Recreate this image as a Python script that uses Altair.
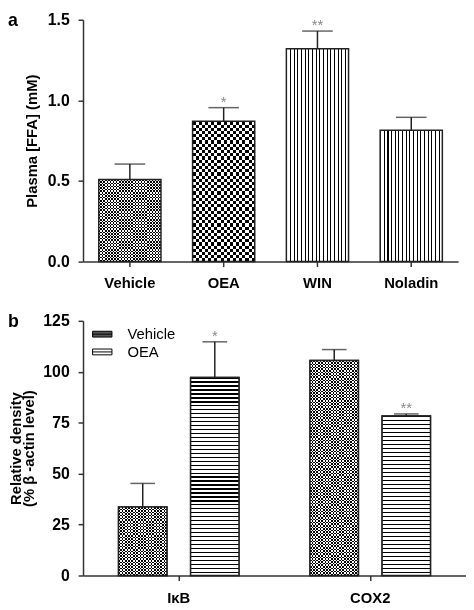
import altair as alt
import pandas as pd

# ---------------- data ----------------
groups_a = ["Vehicle", "OEA", "WIN", "Noladin"]
means_a = [0.51, 0.87, 1.32, 0.815]
errs_a = [0.095, 0.085, 0.11, 0.08]
stars_a = ["", "*", "**", ""]

targets_b = ["IκB", "COX2"]
treatments_b = ["Vehicle", "OEA"]
vehicle_means_b = [33.6, 105.5]
vehicle_errs_b = [11.6, 5.4]
oea_means_b = [97.2, 78.3]
oea_errs_b = [17.5, 1.0]
vehicle_stars_b = ["", ""]
oea_stars_b = ["*", "**"]

# ---------------- style ----------------
FONT = "Liberation Sans"
W_A, H_A = 380, 245
W_B, H_B = 388, 258
YMAX_A, YMAX_B = 1.5, 125
PAD_IN_A, PAD_OUT_A = 0.337, 0.168
PAD_IN_B, PAD_OUT_B = 0.329, 0.493
BW_A = W_A / (len(groups_a) - PAD_IN_A + 2 * PAD_OUT_A) * (1 - PAD_IN_A)
STEP_B = W_B / len(targets_b)
BW_B = STEP_B / (2 - PAD_IN_B + 2 * PAD_OUT_B) * (1 - PAD_IN_B)
EDGE = "#222222"
AXIS = "#333333"

df_a = pd.DataFrame({"group": groups_a, "mean": means_a, "err": errs_a, "star": stars_a})
df_a["top"] = df_a["mean"] + df_a["err"]

rows = []
for i, t in enumerate(targets_b):
    rows.append(dict(target=t, treatment="Vehicle", mean=vehicle_means_b[i],
                     err=vehicle_errs_b[i], star=vehicle_stars_b[i]))
    rows.append(dict(target=t, treatment="OEA", mean=oea_means_b[i],
                     err=oea_errs_b[i], star=oea_stars_b[i]))
df_b = pd.DataFrame(rows)
df_b["top"] = df_b["mean"] + df_b["err"]


def stripes(n, vertical, duty, dark="#000000", light="#ffffff"):
    n = max(int(n), 1)
    stops = []
    for i in range(n):
        a = round(i / n, 6)
        m = round((i + duty) / n, 6)
        b = round((i + 1) / n, 6)
        stops += [alt.GradientStop(offset=a, color=dark),
                  alt.GradientStop(offset=m, color=dark),
                  alt.GradientStop(offset=m, color=light),
                  alt.GradientStop(offset=b, color=light)]
    if vertical:
        return alt.LinearGradient(gradient="linear", stops=stops, x1=0, x2=1, y1=0, y2=0)
    return alt.LinearGradient(gradient="linear", stops=stops, x1=0, x2=0, y1=0, y2=1)


def pattern_layers(kind, size, bar_w, bar_h):
    if kind == "checker":
        return [(stripes(round(bar_w / (2 * size)), True, 0.5), None),
                (stripes(round(bar_h / (2 * size)), False, 0.5), "difference")]
    if kind == "vlines":
        return [(stripes(round(bar_w / size), True, 0.28), None)]
    return [(stripes(round(bar_h / size), False, 0.32), None)]


# ---------------- panel a ----------------
axis_y_a = alt.Axis(values=[0, 0.5, 1.0, 1.5], format=".1f", title="Plasma [FFA] (mM)",
                    labelPadding=9, titlePadding=8, labelFontSize=16)
scale_y_a = alt.Scale(domain=[0, YMAX_A], nice=False)
x_a = alt.X("group:N", sort=groups_a,
            scale=alt.Scale(domain=groups_a, paddingInner=PAD_IN_A, paddingOuter=PAD_OUT_A),
            axis=alt.Axis(title=None, labelAngle=0, labelPadding=9))


def y_a(field):
    return alt.Y(field, scale=scale_y_a, axis=axis_y_a)


base_a = alt.Chart(df_a)
patterns_a = {"Vehicle": ("checker", 1.6), "OEA": ("checker", 3.2),
              "WIN": ("vlines", 3.7), "Noladin": ("vlines", 3.7)}
layers_a = []
for g, m in zip(groups_a, means_a):
    kind, size = patterns_a[g]
    h_px = m / YMAX_A * H_A
    for fill, blend in pattern_layers(kind, size, BW_A, h_px):
        kw = {"fill": fill}
        if blend:
            kw["blend"] = blend
        layers_a.append(base_a.transform_filter(alt.datum.group == g)
                        .mark_bar(**kw).encode(x=x_a, y=y_a("mean:Q")))

outline_a = base_a.mark_bar(fillOpacity=0, stroke=EDGE, strokeWidth=1.5).encode(x=x_a, y=y_a("mean:Q"))
err_a = base_a.mark_rule(color=EDGE, strokeWidth=1.5).encode(x=x_a, y=y_a("mean:Q"), y2="top:Q")
cap_a = base_a.mark_tick(color=EDGE, thickness=1.5, size=31).encode(x=x_a, y=y_a("top:Q"))
star_a = base_a.mark_text(font=FONT, fontSize=15, color="#888888", baseline="alphabetic",
                          dy=-1).encode(x=x_a, y=y_a("top:Q"), text="star:N")
label_a = alt.Chart(pd.DataFrame({"label": ["a"]})).mark_text(
    align="left", baseline="middle", font=FONT, fontSize=18, fontWeight="bold",
    color="#000000").encode(text="label:N", x=alt.value(-76), y=alt.value(1))

panel_a = alt.layer(*layers_a, outline_a, err_a, cap_a, star_a, label_a).properties(
    width=W_A, height=H_A)

# ---------------- panel b ----------------
axis_y_b = alt.Axis(values=[0, 25, 50, 75, 100, 125], title=["Relative density", "(% β -actin level)"],
                    labelPadding=9, titlePadding=6, titleLineHeight=14, labelFontSize=16)
scale_y_b = alt.Scale(domain=[0, YMAX_B], nice=False)
x_b = alt.X("target:N", sort=targets_b,
            scale=alt.Scale(domain=targets_b, paddingInner=0, paddingOuter=0),
            axis=alt.Axis(title=None, labelAngle=0, labelPadding=10))
xo_b = alt.XOffset("treatment:N", sort=treatments_b,
                   scale=alt.Scale(domain=treatments_b, paddingInner=PAD_IN_B, paddingOuter=PAD_OUT_B))


def y_b(field):
    return alt.Y(field, scale=scale_y_b, axis=axis_y_b)


base_b = alt.Chart(df_b)
legend_b = base_b.mark_bar(stroke=EDGE, strokeWidth=1.5).encode(
    x=x_b, xOffset=xo_b, y=y_b("mean:Q"),
    fill=alt.Fill("treatment:N", sort=treatments_b,
                  scale=alt.Scale(domain=treatments_b, range=["#555555", "#ffffff"]),
                  legend=alt.Legend(title=None, orient="none", legendX=12, legendY=6,
                                    symbolType="M-1.4,-0.42H1.4V0.42H-1.4Z M-1.4,0H1.4",
                                    symbolSize=196,
                                    symbolStrokeColor="#000000", symbolStrokeWidth=1,
                                    labelFont=FONT, labelFontSize=15, labelColor="#000000",
                                    labelOffset=18, padding=0, rowPadding=2)))

patterns_b = {"Vehicle": ("checker", 1.6), "OEA": ("hlines", 4.0)}
layers_b = []
for t, vm, om in zip(targets_b, vehicle_means_b, oea_means_b):
    for tr, m in (("Vehicle", vm), ("OEA", om)):
        kind, size = patterns_b[tr]
        h_px = m / YMAX_B * H_B
        for fill, blend in pattern_layers(kind, size, BW_B, h_px):
            kw = {"fill": fill}
            if blend:
                kw["blend"] = blend
            layers_b.append(base_b.transform_filter((alt.datum.target == t) & (alt.datum.treatment == tr))
                            .mark_bar(**kw).encode(x=x_b, xOffset=xo_b, y=y_b("mean:Q")))

outline_b = base_b.mark_bar(fillOpacity=0, stroke=EDGE, strokeWidth=1.5).encode(
    x=x_b, xOffset=xo_b, y=y_b("mean:Q"))
err_b = base_b.mark_rule(color=EDGE, strokeWidth=1.5).encode(
    x=x_b, xOffset=xo_b, y=y_b("mean:Q"), y2="top:Q")
cap_b = base_b.mark_tick(color=EDGE, thickness=1.5, size=25).encode(
    x=x_b, xOffset=xo_b, y=y_b("top:Q"))
star_b = base_b.mark_text(font=FONT, fontSize=15, color="#888888", baseline="alphabetic",
                          dy=-1).encode(x=x_b, xOffset=xo_b, y=y_b("top:Q"), text="star:N")
label_b = alt.Chart(pd.DataFrame({"label": ["b"]})).mark_text(
    align="left", baseline="middle", font=FONT, fontSize=18, fontWeight="bold",
    color="#000000").encode(text="label:N", x=alt.value(-76), y=alt.value(1))

panel_b = alt.layer(legend_b, *layers_b, outline_b, err_b, cap_b, star_b, label_b).properties(
    width=W_B, height=H_B)

chart = alt.vconcat(panel_a, panel_b, spacing=23).resolve_legend(fill="independent").properties(
    padding=0).configure_axis(
    labelFont=FONT, labelFontSize=15, labelFontWeight="bold", labelColor="#000000",
    titleFont=FONT, titleFontSize=15, titleFontWeight="bold", titleColor="#000000",
    domainColor=AXIS, domainWidth=1.5, tickColor=AXIS, tickWidth=1.5, tickSize=5,
    grid=False).configure_view(strokeWidth=0)

chart.save("out.html", embed_options={"renderer": "svg", "actions": False})
